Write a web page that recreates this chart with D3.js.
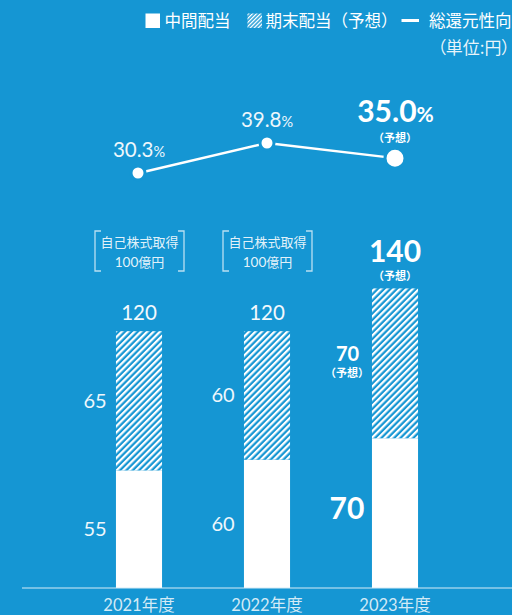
<!DOCTYPE html>
<html lang="ja">
<head>
<meta charset="utf-8">
<script src="https://cdn.jsdelivr.net/npm/d3@7"></script>
<style>
  html, body { margin: 0; padding: 0; background: #1596d3; }
  svg { display: block; }
  .jp { font-family: "Noto Sans CJK JP", "Noto Sans", sans-serif; }
  .num { font-family: Lato, "Noto Sans", sans-serif; }
</style>
</head>
<body>
<svg id="chart" width="512" height="615"></svg>
<script>
// Fiscal years and dividend data (円 per share)
const years = ["2021年度", "2022年度", "2023年度"];
const interimDividend = [55, 60, 70];
const yearEndDividend = [65, 60, 70];
const totalDividend = [120, 120, 140];
const forecast = [false, false, true];
// Total shareholder return ratio (%)
const returnRatio = [30.3, 39.8, 35.0];
// Share buyback notes shown above bars
const buybackNotes = ["自己株式取得|100億円", "自己株式取得|100億円", ""];

const BG = "#1596d3";
const svg = d3.select("#chart");
svg.append("rect").attr("width", 512).attr("height", 615).attr("fill", BG);

// Hatch patterns
const defs = svg.append("defs");
function hatch(id, w) {
  const p = defs.append("pattern")
    .attr("id", id).attr("patternUnits", "userSpaceOnUse")
    .attr("width", w).attr("height", w)
    .attr("patternTransform", "rotate(45)");
  p.append("rect").attr("width", w).attr("height", w).attr("fill", BG);
  p.append("rect").attr("width", w / 2).attr("height", w).attr("fill", "#fff");
}
hatch("hatch", 4.5);
hatch("hatchSmall", 2.8);

// Scales
const x = d3.scaleBand().domain(years).range([75, 459])
  .paddingInner(0.64).paddingOuter(0.32);
const y = d3.scaleLinear().domain([0, 140]).range([588, 588 - 140 * 2.14]);
const yr = d3.scaleLinear().domain([0, 50]).range([268.7, 268.7 - 50 * 3.158]);
const cx = d => x(d) + x.bandwidth() / 2;

// Bars
const bars = svg.append("g");
years.forEach((yrName, i) => {
  const bx = x(yrName), bw = x.bandwidth();
  bars.append("rect").attr("x", bx).attr("width", bw)
    .attr("y", y(interimDividend[i])).attr("height", y(0) - y(interimDividend[i]))
    .attr("fill", "#fff");
  bars.append("rect").attr("x", bx).attr("width", bw)
    .attr("y", y(totalDividend[i])).attr("height", y(interimDividend[i]) - y(totalDividend[i]))
    .attr("fill", "url(#hatch)");
});

// Baseline and x axis
svg.append("line").attr("x1", 22).attr("x2", 512).attr("y1", 588).attr("y2", 588)
  .attr("stroke", "#d6ecf8").attr("stroke-width", 1.2);
const xAxis = svg.append("g").attr("transform", "translate(0,593)")
  .call(d3.axisBottom(x).tickSize(0).tickPadding(0));
xAxis.select(".domain").remove();
xAxis.selectAll("text")
  .attr("class", "jp").attr("y", 0).attr("dy", "18px")
  .style("font-size", "16.5px").attr("fill", "rgba(255,255,255,0.82)")
  .each(function () {
    const t = d3.select(this), s = t.text();
    t.text(null);
    t.append("tspan").attr("class", "num").text(s.slice(0, 4));
    t.append("tspan").text(s.slice(4));
  });

// Segment value labels
const lab = svg.append("g");
years.forEach((yrName, i) => {
  const c = cx(yrName);
  const midI = (y(0) + y(interimDividend[i])) / 2;
  const midF = (y(interimDividend[i]) + y(totalDividend[i])) / 2;
  if (!forecast[i]) {
    lab.append("text").attr("class", "num").attr("x", c - 44).attr("y", midI + 7)
      .attr("text-anchor", "middle").attr("fill", "#eef7fc")
      .style("font-size", "20px").text(interimDividend[i]);
    lab.append("text").attr("class", "num").attr("x", c - 44).attr("y", midF + 7)
      .attr("text-anchor", "middle").attr("fill", "#eef7fc")
      .style("font-size", "20px").text(yearEndDividend[i]);
    lab.append("text").attr("class", "num").attr("x", c).attr("y", y(totalDividend[i]) - 11)
      .attr("text-anchor", "middle").attr("fill", "#f2f9fd")
      .style("font-size", "20.5px").text(totalDividend[i]);
  } else {
    lab.append("text").attr("class", "num").attr("x", c - 48).attr("y", midI + 5.5)
      .attr("text-anchor", "middle").attr("fill", "#fff").style("font-weight", 700)
      .style("font-size", "30px").text(interimDividend[i]);
    lab.append("text").attr("class", "num").attr("x", c - 47.5).attr("y", midF - 2)
      .attr("text-anchor", "middle").attr("fill", "#fff").style("font-weight", 700)
      .style("font-size", "20px").text(yearEndDividend[i]);
    lab.append("text").attr("class", "jp").attr("x", c - 48).attr("y", midF + 13.5)
      .attr("text-anchor", "middle").attr("fill", "#fff").style("font-weight", 700)
      .style("font-size", "11px").text("（予想）");
    lab.append("text").attr("class", "num").attr("x", c).attr("y", y(totalDividend[i]) - 26)
      .attr("text-anchor", "middle").attr("fill", "#fff").style("font-weight", 700)
      .style("font-size", "30px").text(totalDividend[i]);
    lab.append("text").attr("class", "jp").attr("x", c).attr("y", y(totalDividend[i]) - 8)
      .attr("text-anchor", "middle").attr("fill", "#fff").style("font-weight", 700)
      .style("font-size", "11px").text("（予想）");
  }
});

// Share buyback brackets
years.forEach((yrName, i) => {
  if (!buybackNotes[i]) return;
  const c = cx(yrName) + 0.5;
  const g = svg.append("g");
  const col = "rgba(255,255,255,0.7)";
  const l = c - 44.5, r = c + 44.5, t = 231, b = 271, arm = 6;
  g.append("path").attr("fill", "none").attr("stroke", col).attr("stroke-width", 1.3)
    .attr("d", `M${l + arm},${t}H${l}V${b}H${l + arm}M${r - arm},${t}H${r}V${b}H${r - arm}`);
  const lines = buybackNotes[i].split("|");
  g.append("text").attr("class", "jp").attr("x", c).attr("y", 247)
    .attr("text-anchor", "middle").attr("fill", "rgba(255,255,255,0.9)")
    .style("font-size", "13px").text(lines[0]);
  const t2 = g.append("text").attr("class", "jp").attr("x", c).attr("y", 266.5)
    .attr("text-anchor", "middle").attr("fill", "rgba(255,255,255,0.9)")
    .style("font-size", "13px");
  t2.append("tspan").attr("class", "num").style("font-size", "13.5px").text(lines[1].slice(0, 3));
  t2.append("tspan").text(lines[1].slice(3));
});

// Total return ratio line
const lineGen = d3.line().x((d, i) => cx(years[i])).y(d => yr(d));
svg.append("path").datum(returnRatio).attr("d", lineGen)
  .attr("fill", "none").attr("stroke", "#fff").attr("stroke-width", 2.4);
svg.append("g").selectAll("circle").data(returnRatio).join("circle")
  .attr("cx", (d, i) => cx(years[i]) - (i === 0 ? 1 : 0))
  .attr("cy", d => yr(d))
  .attr("r", (d, i) => forecast[i] ? 10 : 7)
  .attr("fill", "#fff").attr("stroke", BG).attr("stroke-width", 3);

// Ratio labels
returnRatio.forEach((v, i) => {
  const c = cx(years[i]);
  const t = svg.append("text").attr("class", "num").attr("text-anchor", "middle")
    .attr("fill", forecast[i] ? "#fff" : "#eef7fc");
  if (!forecast[i]) {
    t.attr("x", c).attr("y", yr(v) - 16.5);
    t.append("tspan").style("font-size", "20.5px").text(v.toFixed(1));
    t.append("tspan").style("font-size", "14.5px").text("%");
  } else {
    t.attr("x", c + 0.5).attr("y", yr(v) - 36).style("font-weight", 700);
    t.append("tspan").style("font-size", "30px").text(v.toFixed(1));
    t.append("tspan").style("font-size", "21px").text("%");
    svg.append("text").attr("class", "jp").attr("x", c).attr("y", yr(v) - 16.5)
      .attr("text-anchor", "middle").attr("fill", "#fff").style("font-weight", 700)
      .style("font-size", "11px").text("（予想）");
  }
});

// Legend
const lg = svg.append("g").attr("class", "jp").style("font-size", "16.5px").attr("fill", "#fff");
lg.append("rect").attr("x", 145.5).attr("y", 13.5).attr("width", 14.5).attr("height", 14.5).attr("fill", "#fff");
lg.append("text").attr("x", 164.5).attr("y", 26.5).text("中間配当");
lg.append("rect").attr("x", 247.5).attr("y", 13.5).attr("width", 14.5).attr("height", 14.5).attr("fill", "url(#hatchSmall)");
lg.append("text").attr("x", 265.5).attr("y", 26.5).text("期末配当（予想）");
lg.append("line").attr("x1", 401.5).attr("x2", 419).attr("y1", 20.5).attr("y2", 20.5)
  .attr("stroke", "#fff").attr("stroke-width", 3);
lg.append("text").attr("x", 511.5).attr("y", 26.5).attr("text-anchor", "end").text("総還元性向");
lg.append("text").attr("x", 510).attr("y", 54).attr("text-anchor", "end")
  .style("font-size", "17px").style("font-feature-settings", "'palt'")
  .attr("fill", "rgba(255,255,255,0.92)").text("（単位:円）");
</script>
</body>
</html>
